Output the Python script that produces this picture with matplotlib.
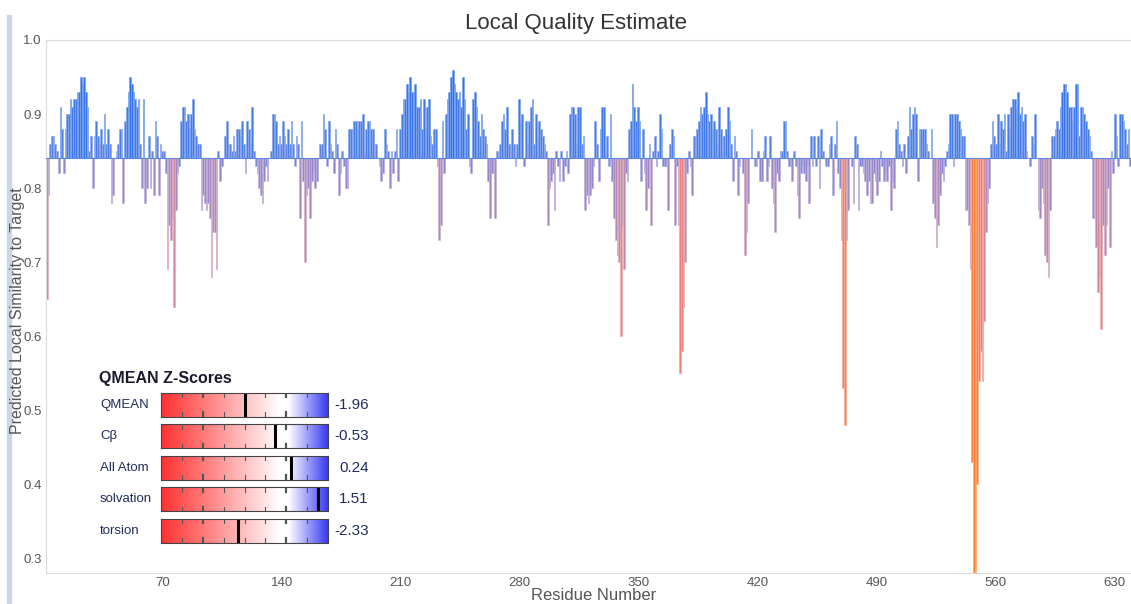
import numpy as np
import matplotlib
matplotlib.use('Agg')
import matplotlib.pyplot as plt
from matplotlib.colors import LinearSegmentedColormap
from matplotlib.patches import Rectangle

plt.rcParams['font.family'] = ['Liberation Sans', 'DejaVu Sans']

# predicted local similarity per residue
baseline = 0.84
seg1 = [0.65, 0.79, 0.86, 0.87, 0.87, 0.86, 0.85, 0.82, 0.91, 0.88, 0.82, 0.88,
        0.90, 0.90, 0.92, 0.91, 0.92, 0.92, 0.93, 0.93, 0.95, 0.94, 0.95, 0.93, 0.91,
        0.85, 0.87, 0.80, 0.87, 0.89, 0.87, 0.86, 0.88, 0.86, 0.90, 0.86, 0.88, 0.86,
        0.78, 0.79, 0.84, 0.85, 0.86,
        0.88, 0.88, 0.78, 0.89, 0.91, 0.93, 0.95, 0.94, 0.93, 0.92, 0.91, 0.92, 0.86,
        0.80, 0.92, 0.78, 0.80, 0.87, 0.80, 0.85, 0.79, 0.89, 0.87, 0.79, 0.86, 0.85,
        0.85, 0.82, 0.69, 0.75, 0.73, 0.76, 0.64, 0.77, 0.82, 0.83, 0.89, 0.91, 0.91,
        0.89, 0.90, 0.88, 0.90, 0.92, 0.88, 0.87, 0.86, 0.86, 0.77, 0.79, 0.78, 0.77,
        0.78, 0.76, 0.68, 0.74, 0.74, 0.69, 0.85, 0.81, 0.83, 0.84, 0.87]
seg2 = [0.89, 0.86, 0.86, 0.85, 0.87, 0.85, 0.88, 0.88, 0.87, 0.89, 0.86, 0.82,
        0.89, 0.88, 0.86, 0.91, 0.85, 0.83, 0.82, 0.80, 0.79, 0.78, 0.81, 0.83,
        0.81, 0.84, 0.85, 0.90, 0.90, 0.89, 0.86, 0.87, 0.86, 0.89, 0.87, 0.86,
        0.88, 0.86, 0.89, 0.86, 0.83, 0.87, 0.86, 0.76, 0.89, 0.81, 0.70, 0.79,
        0.80, 0.76, 0.81, 0.82, 0.80, 0.81, 0.84, 0.86, 0.86, 0.90, 0.88, 0.83,
        0.89, 0.86, 0.85, 0.82, 0.88, 0.86, 0.79, 0.82, 0.85, 0.83, 0.80, 0.80,
        0.88, 0.88, 0.88, 0.89, 0.89, 0.88, 0.89, 0.89, 0.90, 0.85, 0.88, 0.89,
        0.89, 0.88, 0.88, 0.86, 0.86, 0.84, 0.83, 0.81, 0.82, 0.88, 0.86, 0.85,
        0.80, 0.85, 0.82, 0.85, 0.88, 0.81, 0.88, 0.90, 0.92, 0.92, 0.94, 0.93,
        0.95, 0.93]
seg3 = [0.93, 0.94, 0.91, 0.91, 0.92, 0.88, 0.92, 0.88, 0.91, 0.92, 0.87, 0.86,
        0.88, 0.88, 0.83, 0.73, 0.75, 0.89, 0.82, 0.90, 0.92, 0.93, 0.95, 0.96,
        0.94, 0.93, 0.92, 0.93, 0.91, 0.95, 0.92, 0.88, 0.90, 0.83, 0.82, 0.92,
        0.93, 0.91, 0.89, 0.87, 0.90, 0.88, 0.87, 0.86, 0.81, 0.76, 0.82, 0.82,
        0.76, 0.85, 0.85, 0.86, 0.89, 0.90, 0.88, 0.91, 0.86, 0.86, 0.88, 0.86,
        0.83, 0.86, 0.92, 0.89, 0.90, 0.83, 0.89, 0.86, 0.89, 0.91, 0.92, 0.86,
        0.90, 0.87, 0.89, 0.88, 0.87, 0.86, 0.85, 0.75, 0.80, 0.81, 0.82, 0.77,
        0.85, 0.83, 0.81, 0.85, 0.81, 0.83, 0.85, 0.82, 0.90, 0.91, 0.91, 0.90,
        0.86, 0.91, 0.91, 0.86, 0.87, 0.77, 0.79, 0.78, 0.79, 0.80, 0.83, 0.89,
        0.86]
seg4 = [0.81, 0.88, 0.91, 0.91, 0.85, 0.87, 0.83, 0.90, 0.81, 0.76, 0.73, 0.71,
        0.70, 0.60, 0.75, 0.69, 0.82, 0.81, 0.88, 0.89, 0.94, 0.91, 0.89, 0.91,
        0.89, 0.81, 0.88, 0.82, 0.77, 0.80, 0.86, 0.75, 0.85, 0.87, 0.83, 0.85,
        0.90, 0.88, 0.83, 0.83, 0.83, 0.77, 0.86, 0.88, 0.87, 0.75, 0.83, 0.75,
        0.55, 0.58, 0.64, 0.70, 0.82, 0.85, 0.83, 0.79, 0.87, 0.87, 0.88, 0.89,
        0.91, 0.90, 0.91, 0.93, 0.90, 0.89, 0.90, 0.88, 0.89, 0.88, 0.86, 0.91,
        0.88, 0.87, 0.87, 0.88, 0.91, 0.89, 0.86, 0.81, 0.87, 0.85, 0.79, 0.83,
        0.84, 0.82, 0.71, 0.74, 0.78, 0.84, 0.88, 0.84, 0.83, 0.83, 0.85, 0.81,
        0.81, 0.85, 0.87, 0.81, 0.83, 0.87, 0.80, 0.78, 0.74, 0.82, 0.81, 0.85,
        0.85, 0.89]
seg5 = [0.89, 0.85, 0.83, 0.83, 0.81, 0.85, 0.83, 0.79, 0.76, 0.82, 0.83, 0.82,
        0.81, 0.83, 0.78, 0.87, 0.83, 0.87, 0.83, 0.87, 0.80, 0.88, 0.85, 0.84,
        0.83, 0.83, 0.86, 0.87, 0.79, 0.86, 0.89, 0.82, 0.80, 0.73, 0.53, 0.48,
        0.73, 0.77, 0.84, 0.83, 0.78, 0.87, 0.86, 0.77, 0.83, 0.83, 0.82, 0.81,
        0.79, 0.81, 0.78, 0.78, 0.82, 0.81, 0.79, 0.81, 0.85, 0.83, 0.81, 0.82,
        0.81, 0.83, 0.77, 0.81, 0.80, 0.88, 0.89, 0.86, 0.85, 0.83, 0.86, 0.82,
        0.87, 0.91, 0.88, 0.90, 0.91, 0.90, 0.81, 0.88, 0.88, 0.88, 0.88, 0.86,
        0.85, 0.84, 0.88, 0.78, 0.76, 0.72, 0.75, 0.79, 0.82, 0.81, 0.83, 0.85,
        0.86, 0.90, 0.90, 0.83, 0.90, 0.90, 0.89, 0.88, 0.87, 0.87, 0.77, 0.77,
        0.75, 0.69]
seg_dip = [0.43, 0.27, 0.27, 0.40, 0.54, 0.58, 0.54, 0.62]
seg6 = [0.74, 0.78, 0.80, 0.86, 0.89, 0.87, 0.86, 0.90, 0.86, 0.89, 0.88, 0.90,
        0.85, 0.90, 0.88, 0.91, 0.92, 0.92, 0.91, 0.93, 0.90, 0.91, 0.89, 0.90,
        0.85, 0.84, 0.83, 0.87, 0.86, 0.90, 0.84, 0.77, 0.76, 0.80, 0.78, 0.71,
        0.70, 0.68, 0.77, 0.87, 0.87, 0.88, 0.89, 0.88, 0.91, 0.93, 0.94, 0.94,
        0.93, 0.91, 0.91, 0.89, 0.91, 0.94, 0.94, 0.87, 0.91, 0.91, 0.90, 0.89,
        0.88, 0.87, 0.85, 0.76, 0.76, 0.72, 0.66, 0.68, 0.61, 0.75, 0.71, 0.75,
        0.80, 0.72, 0.85, 0.82, 0.90, 0.87, 0.83, 0.90, 0.90, 0.89, 0.88, 0.86,
        0.88, 0.83]

zscore_names = ['QMEAN', 'Cβ', 'All Atom', 'solvation', 'torsion']
zscore_values = [-1.96, -0.53, 0.24, 1.51, -2.33]

scores = np.array(seg1 + seg2 + seg3 + seg4 + seg5 + seg_dip + seg6)
residues = np.arange(1, len(scores) + 1)

W, H = 1131, 604
fig = plt.figure(figsize=(W / 100, H / 100), dpi=100)


def box(x0, y0, x1, y1):
    # pixel box measured from the top left -> figure rect
    return [x0 / W, 1 - y1 / H, (x1 - x0) / W, (y1 - y0) / H]


ax = fig.add_axes(box(46, 40, 1131, 573))

# bar colour follows the score: orange (poor) -> pink -> purple -> blue (good)
nodes = [(0.27, '#ff7f2a'), (0.45, '#fa7f48'), (0.55, '#f27e72'), (0.65, '#d3879b'),
         (0.75, '#ae88bb'), (0.82, '#8e86d2'), (0.84, '#6e84e0'), (0.88, '#4d7fe6'),
         (0.96, '#2f70ea')]
lo, hi = nodes[0][0], nodes[-1][0]
cmap = LinearSegmentedColormap.from_list('lq', [((v - lo) / (hi - lo), c) for v, c in nodes])
face = cmap((np.clip(scores, lo, hi) - lo) / (hi - lo))
edge = face.copy()
edge[:, :3] = face[:, :3] * 0.65 + 0.35

ax.bar(residues, scores - baseline, bottom=baseline, width=1, align='edge',
       color=face, edgecolor=edge, linewidth=0.5)
ax.axhline(baseline, color='#5a86e4', lw=0.8, zorder=3)

ax.set_xlim(1, 640)
ax.set_ylim(0.28, 1.0)
ax.set_xticks(range(70, 631, 70))
ax.set_yticks(np.arange(0.3, 1.01, 0.1))
ax.set_yticklabels(['%.1f' % t for t in np.arange(0.3, 1.01, 0.1)])
ax.tick_params(length=0, colors='#555555', labelsize=9.5, pad=3)
for s in ['left', 'top', 'bottom']:
    ax.spines[s].set_color('#dadada')
ax.spines['right'].set_visible(False)

fig.text(576 / W, 1 - 23 / H, 'Local Quality Estimate', ha='center', va='center',
         fontsize=16, color='#333333')
fig.text(18 / W, 1 - 311 / H, 'Predicted Local Similarity to Target', rotation=90,
         ha='center', va='center', fontsize=11.5, color='#555555')
fig.text(594 / W, 1 - 595 / H, 'Residue Number', ha='center', va='center',
         fontsize=12, color='#555555')

# page border on the far left
fig.patches.append(Rectangle((7 / W, 0), 4 / W, 1 - 15 / H, transform=fig.transFigure,
                             color='#c9d7e6', zorder=0))

# QMEAN Z-score panel
fig.text(99 / W, 1 - 379 / H, 'QMEAN Z-Scores', fontsize=11.5, fontweight='bold',
         color='#1a1a2e', va='center')
zcmap = LinearSegmentedColormap.from_list('z', [(0, '#ff3030'), (0.71, '#ffffff'),
                                                 (0.76, '#ffffff'), (1, '#3535f5')])
grad = np.linspace(0, 1, 256).reshape(1, -1)
for i, (name, z) in enumerate(zip(zscore_names, zscore_values)):
    yc = 404.7 + i * 31.5
    bax = fig.add_axes(box(161, yc - 12, 328, yc + 12))
    bax.imshow(grad, aspect='auto', cmap=zcmap, extent=(-6, 2, 0, 1))
    bax.set_xlim(-6, 2)
    bax.set_ylim(0, 1)
    for t in range(-5, 2):
        lw = 1.6 if t in (-4, 0) else 0.8
        bax.plot([t, t], [0.82, 1], color='#555555', lw=lw)
        bax.plot([t, t], [0, 0.18], color='#555555', lw=lw)
    bax.axvline(z, color='black', lw=2.2)
    bax.set_xticks([])
    bax.set_yticks([])
    for s in bax.spines.values():
        s.set_color('#444444')
        s.set_linewidth(0.8)
    fig.text(100 / W, 1 - yc / H, name, fontsize=9.5, color='#1f2d5c', va='center')
    fig.text(369 / W, 1 - yc / H, '%.2f' % z, fontsize=11, color='#1f2d5c',
             va='center', ha='right')

fig.savefig('out.png', dpi=100)
